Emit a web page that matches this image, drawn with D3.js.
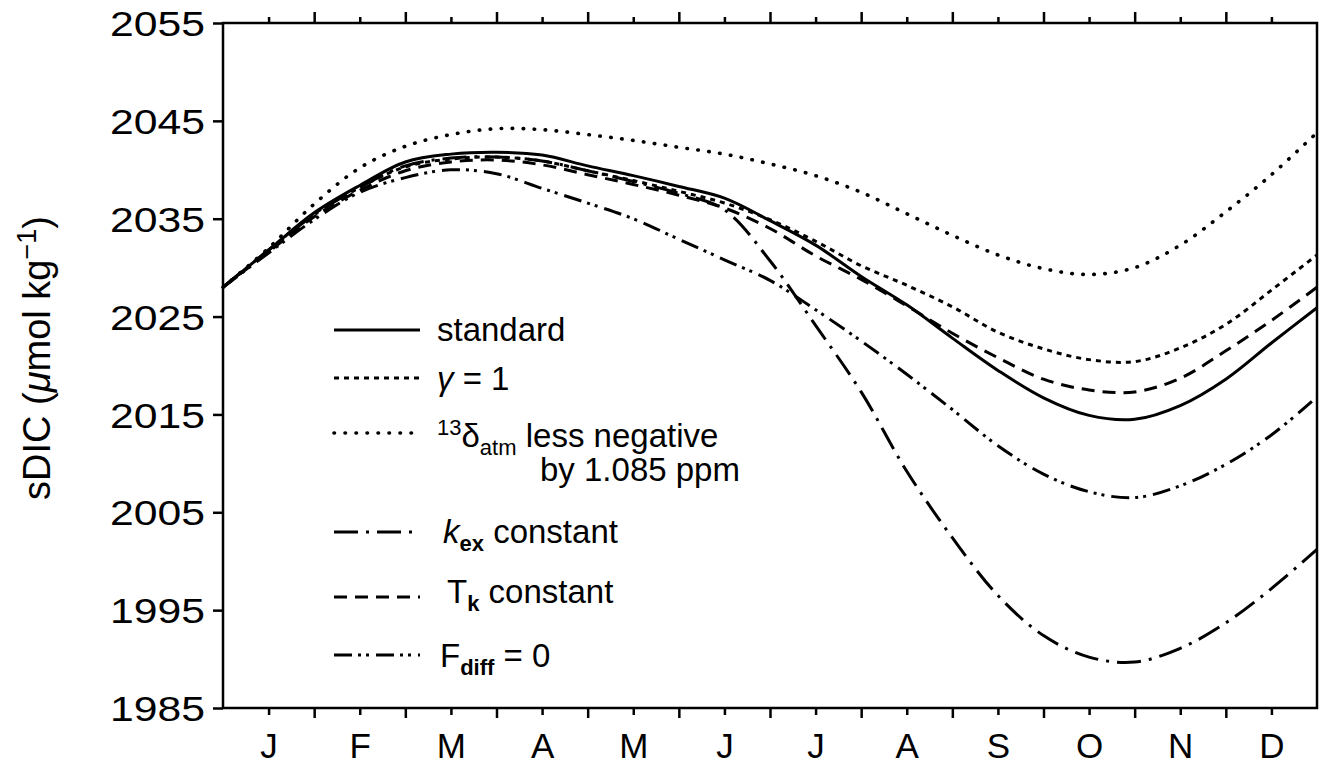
<!DOCTYPE html>
<meta charset="utf-8">
<script src="https://d3js.org/d3.v7.min.js"></script>
<style>
  body { margin: 0; background: #fff; }
  text { font-family: "Liberation Sans", Arial, sans-serif; fill: #000; }
</style>
<div id="my_dataviz"></div>
<script>

// chart data (months from 1 Jan, sDIC in umol/kg)
var monthPos = [0, 0.5, 1, 1.5, 2, 2.5, 3, 3.5, 4, 4.5, 5, 5.5, 6, 6.5, 7, 7.5, 8, 8.5, 9, 9.5, 10, 10.5, 11, 11.5, 12];
var monthLabels = ["J", "F", "M", "A", "M", "J", "J", "A", "S", "O", "N", "D"];
var yTicks = [1985, 1995, 2005, 2015, 2025, 2035, 2045, 2055];

var standard = [2028.0, 2031.8, 2035.6, 2038.4, 2040.8, 2041.6, 2041.8, 2041.5, 2040.4, 2039.4, 2038.3, 2037.1, 2034.8, 2032.3, 2029.1, 2026.2, 2022.8, 2019.5, 2016.7, 2014.9, 2014.5, 2015.9, 2018.6, 2022.3, 2025.9];
var gamma1   = [2028.0, 2031.8, 2035.5, 2038.2, 2040.3, 2041.1, 2041.3, 2040.9, 2039.9, 2038.9, 2037.8, 2036.6, 2034.9, 2032.7, 2030.2, 2028.2, 2026.0, 2023.4, 2021.7, 2020.6, 2020.4, 2021.8, 2024.2, 2027.7, 2031.3];
var delta13  = [2028.0, 2032.0, 2036.5, 2040.2, 2042.4, 2043.6, 2044.2, 2044.1, 2043.6, 2043.0, 2042.3, 2041.6, 2040.6, 2039.4, 2037.7, 2035.5, 2033.3, 2031.3, 2029.9, 2029.3, 2030.0, 2032.3, 2035.7, 2039.5, 2043.8];
var kexConst = [2028.0, 2031.8, 2035.4, 2038.2, 2040.4, 2041.2, 2041.3, 2040.9, 2039.9, 2038.8, 2037.6, 2035.9, 2030.7, 2024.1, 2017.3, 2009.2, 2002.4, 1996.5, 1992.4, 1990.2, 1989.7, 1991.1, 1993.7, 1997.2, 2001.2];
var tkConst  = [2028.0, 2031.6, 2035.2, 2037.9, 2039.9, 2040.8, 2041.0, 2040.5, 2039.5, 2038.5, 2037.4, 2036.1, 2034.0, 2031.2, 2028.8, 2026.1, 2023.3, 2020.8, 2018.6, 2017.5, 2017.3, 2018.7, 2021.5, 2024.6, 2028.0];
var fdiff0   = [2028.0, 2031.5, 2034.9, 2037.7, 2039.2, 2040.0, 2039.6, 2038.1, 2036.6, 2035.0, 2032.9, 2030.8, 2028.7, 2025.7, 2022.5, 2019.1, 2015.5, 2011.8, 2008.9, 2007.1, 2006.5, 2007.7, 2009.9, 2012.9, 2016.8];

// set the dimensions and margins of the graph
var margin = {top: 23, right: 4, bottom: 58, left: 223},
  width = 1321 - margin.left - margin.right,
  height = 766 - margin.top - margin.bottom;

var svg = d3.select("#my_dataviz")
.append("svg")
  .attr("width", 1321)
  .attr("height", 766)
.append("g")
  .attr("transform", "translate(" + margin.left + "," + margin.top + ")");

var x = d3.scaleLinear().domain([0, 12]).range([0, width]);
var y = d3.scaleLinear().domain([1985, 2055]).range([height, 0]);

var majorX = d3.range(1, 12);
var minorX = monthLabels.map(function(d, i) { return i + 0.5; });

function styleAxis(g) {
  g.select(".domain").remove();
  g.selectAll("line").attr("stroke", "#000").attr("stroke-width", 2.5);
}

// bottom ticks (down), top ticks (up)
svg.append("g").attr("transform", "translate(0," + height + ")")
  .call(d3.axisBottom(x).tickValues(majorX).tickSize(10).tickFormat(""))
  .call(styleAxis);
svg.append("g").attr("transform", "translate(0," + height + ")")
  .call(d3.axisBottom(x).tickValues(minorX).tickSize(7).tickFormat(""))
  .call(styleAxis);
svg.append("g")
  .call(d3.axisTop(x).tickValues(majorX).tickSize(11).tickFormat(""))
  .call(styleAxis);
svg.append("g")
  .call(d3.axisTop(x).tickValues(minorX).tickSize(6).tickFormat(""))
  .call(styleAxis);

// month labels
svg.append("g").attr("transform", "translate(0," + height + ")")
  .call(d3.axisBottom(x).tickValues(minorX).tickSize(0).tickPadding(25)
    .tickFormat(function(d, i) { return monthLabels[i]; }))
  .call(function(g) {
    g.select(".domain").remove();
    g.selectAll("text").style("font-size", "35px").attr("dy", "0.72em")
      .attr("font-family", "Liberation Sans, Arial, sans-serif");
  });

// y axis
svg.append("g")
  .call(d3.axisLeft(y).tickValues(yTicks).tickSize(10).tickPadding(8).tickFormat(d3.format("d")))
  .call(function(g) {
    g.select(".domain").remove();
    g.selectAll("line").attr("stroke", "#000").attr("stroke-width", 2.5);
    g.selectAll("text").style("font-size", "35px").attr("dy", "0.36em")
      .attr("textLength", 95).attr("lengthAdjust", "spacingAndGlyphs")
      .attr("font-family", "Liberation Sans, Arial, sans-serif");
  });

// frame
svg.append("rect")
  .attr("x", 0).attr("y", 0)
  .attr("width", width).attr("height", height)
  .attr("fill", "none").attr("stroke", "#000").attr("stroke-width", 2.5);

// series
var series = [
  {name: "standard", values: standard, dash: null, cap: "butt", w: 3},
  {name: "gamma", values: gamma1, dash: "5,5", cap: "butt", w: 3},
  {name: "delta", values: delta13, dash: "0.5,10.5", cap: "round", w: 3.6},
  {name: "kex", values: kexConst, dash: "24,8,3,8", cap: "butt", w: 3},
  {name: "tk", values: tkConst, dash: "13,8", cap: "butt", w: 3},
  {name: "fdiff", values: fdiff0, dash: "18,6,3,5,3,7", cap: "butt", w: 3}
];

var line = d3.line()
  .x(function(d) { return x(d[0]); })
  .y(function(d) { return y(d[1]); })
  .curve(d3.curveCatmullRom.alpha(0.5));

svg.selectAll(".series")
  .data(series)
  .enter()
  .append("path")
    .attr("class", "series")
    .attr("d", function(s) { return line(monthPos.map(function(m, i) { return [m, s.values[i]]; })); })
    .attr("fill", "none")
    .attr("stroke", "#000")
    .attr("stroke-width", function(s) { return s.w; })
    .attr("stroke-linecap", function(s) { return s.cap; })
    .attr("stroke-dasharray", function(s) { return s.dash; });

// legend (page coords, shifted back by margin)
var legend = svg.append("g")
  .attr("transform", "translate(" + (-margin.left) + "," + (-margin.top) + ")");

var legendRows = [
  {s: series[0], ly: 330},
  {s: series[1], ly: 378},
  {s: series[2], ly: 433},
  {s: series[3], ly: 532},
  {s: series[4], ly: 597},
  {s: series[5], ly: 655}
];
legendRows.forEach(function(r) {
  legend.append("line")
    .attr("x1", 334).attr("x2", 420)
    .attr("y1", r.ly).attr("y2", r.ly)
    .attr("stroke", "#000")
    .attr("stroke-width", r.s.w)
    .attr("stroke-linecap", r.s.cap)
    .attr("stroke-dasharray", r.s.dash);
});

var fs = 33;
function ltext(xp, yp) {
  return legend.append("text").attr("x", xp).attr("y", yp).style("font-size", fs + "px");
}

ltext(437, 341).text("standard");

var t = ltext(437, 390);
t.append("tspan").style("font-style", "italic").text("γ");
t.append("tspan").text(" = 1");

t = ltext(437, 447);
t.append("tspan").attr("dy", -12).style("font-size", "22px").text("13");
t.append("tspan").attr("dy", 12).text("δ");
t.append("tspan").attr("dy", 8).style("font-size", "22px").text("atm");
t.append("tspan").attr("dy", -8).text("  less negative");
ltext(540, 481).text("by 1.085 ppm");

t = ltext(443, 543);
t.append("tspan").style("font-style", "italic").text("k");
t.append("tspan").attr("dy", 8).style("font-size", "22px").style("font-weight", "bold").text("ex");
t.append("tspan").attr("dy", -8).text("  constant");

t = ltext(447, 603);
t.append("tspan").text("T");
t.append("tspan").attr("dy", 8).style("font-size", "22px").style("font-weight", "bold").text("k");
t.append("tspan").attr("dy", -8).text("  constant");

t = ltext(440, 667);
t.append("tspan").text("F");
t.append("tspan").attr("dy", 8).style("font-size", "22px").style("font-weight", "bold").text("diff");
t.append("tspan").attr("dy", -8).text("  = 0");

// y axis title
var yt = svg.append("text")
  .attr("transform", "translate(" + (50 - margin.left) + "," + (358 - margin.top) + ") rotate(-90)")
  .attr("text-anchor", "middle")
  .style("font-size", "38px");
yt.append("tspan").text("sDIC (");
yt.append("tspan").style("font-style", "italic").text("μ");
yt.append("tspan").text("mol kg");
yt.append("tspan").attr("dy", -14).style("font-size", "27px").text("−1");
yt.append("tspan").attr("dy", 14).text(")");

</script>
